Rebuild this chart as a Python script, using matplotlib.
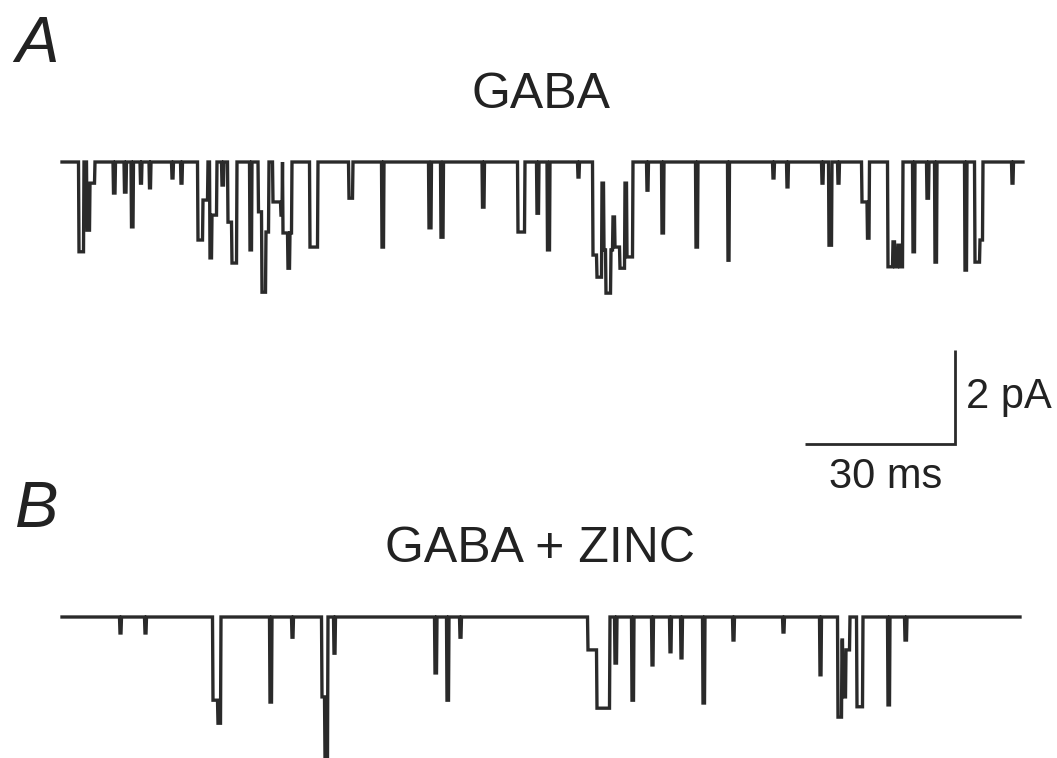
import numpy as np
import matplotlib
matplotlib.use("Agg")
import matplotlib.pyplot as plt

plt.rcParams['font.family'] = ['Liberation Sans', 'DejaVu Sans']

# ---- data (time in ms, amplitude of inward openings in pA) ----
# Trace A: GABA
a_start = [3.4, 5.0, 5.6, 10.3, 12.5, 13.9, 15.7, 17.5, 22.0, 23.8,
           27.2, 28.2, 29.6, 30.0, 32.0, 33.2, 34.0, 37.6, 39.3, 40.0,
           40.8, 42.2, 43.8, 44.2, 45.2, 45.6, 49.6, 57.4, 64.0, 73.4,
           75.8, 84.1, 91.2, 95.0, 97.1, 103.2, 106.2, 107.0, 108.0, 108.4,
           108.8, 109.8, 110.2, 110.6, 111.6, 112.6, 113.0, 117.0, 120.0, 126.8,
           133.2, 142.2, 145.0, 152.0, 153.4, 155.2, 160.0, 161.1, 165.2, 166.2,
           166.6, 167.2, 167.6, 170.2, 173.0, 174.6, 180.6, 182.6, 183.6, 190.0]
a_end = [4.4, 5.6, 6.6, 10.7, 12.9, 14.3, 16.0, 17.8, 22.3, 24.1,
         28.2, 29.2, 30.0, 31.0, 32.4, 34.0, 35.0, 38.0, 40.0, 40.8,
         41.4, 43.8, 44.1, 45.2, 45.6, 46.0, 51.2, 58.2, 64.4, 73.9,
         76.3, 84.5, 92.6, 95.4, 97.6, 103.5, 107.0, 108.0, 108.4, 108.8,
         109.8, 110.2, 110.6, 111.6, 112.6, 113.0, 114.2, 117.3, 120.4, 127.2,
         133.5, 142.5, 145.3, 152.3, 154.0, 155.5, 161.1, 161.5, 166.2, 166.6,
         167.2, 167.6, 168.2, 170.6, 173.4, 175.0, 181.0, 183.6, 184.2, 190.3]
a_amp = [1.91, 1.45, 0.45, 0.66, 0.64, 1.38, 0.45, 0.55, 0.34, 0.45,
         1.66, 0.81, 2.04, 1.13, 0.49, 1.28, 2.15, 1.87, 1.06, 2.77,
         1.49, 0.85, 1.13, 1.51, 2.26, 1.51, 1.81, 0.77, 1.81, 1.40,
         1.60, 0.96, 1.49, 1.09, 1.87, 0.32, 1.98, 2.45, 0.45, 1.87,
         2.79, 1.87, 1.17, 1.81, 2.26, 0.45, 2.02, 0.60, 1.51, 1.81,
         2.09, 0.34, 0.53, 0.45, 1.77, 0.45, 0.85, 1.62, 2.23, 1.70,
         2.23, 1.77, 2.23, 1.91, 0.77, 2.13, 2.30, 2.13, 1.66, 0.45]
a_duration = 192.2

# Trace B: GABA + ZINC
b_start = [11.6, 16.6, 30.2, 31.2, 41.6, 46.0, 52.0, 52.6, 54.4, 74.6,
           77.0, 79.6, 105.2, 107.0, 110.6, 114.0, 118.0, 121.6, 123.8, 128.2,
           134.2, 144.2, 151.6, 155.2, 156.0, 156.2, 156.8, 159.0, 165.2, 168.6]
b_end = [11.9, 16.9, 31.2, 31.8, 42.0, 46.3, 52.6, 53.2, 54.7, 75.0,
         77.4, 79.9, 107.0, 109.6, 111.0, 114.4, 118.3, 121.9, 124.1, 128.6,
         134.5, 144.5, 151.9, 156.0, 156.2, 156.8, 157.6, 160.2, 165.6, 169.0]
b_amp = [0.34, 0.34, 1.77, 2.26, 1.81, 0.43, 1.70, 2.98, 0.77, 1.19,
         1.77, 0.43, 0.70, 1.94, 0.98, 1.77, 1.02, 0.74, 0.87, 1.83,
         0.49, 0.32, 1.23, 2.13, 0.49, 1.70, 0.70, 1.91, 1.87, 0.49]
b_duration = 191.6

titles = ["GABA", "GABA + ZINC"]
panel_labels = ["A", "B"]
scale_ms = 30
scale_pA = 2


def build_trace(starts, ends, amps, duration, dt=0.1):
    t = np.arange(0.0, duration + dt / 2, dt)
    depth = np.zeros_like(t)
    for s, e, a in zip(starts, ends, amps):
        m = (t >= s) & (t < e)
        depth[m] = np.maximum(depth[m], a)
    return t, -depth


W, H = 1057, 758
fig = plt.figure(figsize=(W / 100, H / 100), dpi=100)
ax = fig.add_axes([0, 0, 1, 1])
px_per_ms = 5.0
px_per_pA = 47.0
x0_px = 62
ax.set_xlim(-x0_px / px_per_ms, (W - x0_px) / px_per_ms)
ax.set_ylim(-H / px_per_pA, 0)
ax.axis('off')

col = '#2a2a2a'
baseA = -162 / px_per_pA
baseB = -617 / px_per_pA

tA, yA = build_trace(a_start, a_end, a_amp, a_duration)
tB, yB = build_trace(b_start, b_end, b_amp, b_duration)
ax.plot(tA, yA + baseA, color=col, lw=2.4, solid_joinstyle='miter')
ax.plot(tB, yB + baseB, color=col, lw=2.4, solid_joinstyle='miter')

# scale bar
bar_x = (955 - x0_px) / px_per_ms
bar_y = -444 / px_per_pA
ax.plot([bar_x - scale_ms, bar_x, bar_x], [bar_y, bar_y, bar_y + scale_pA],
        color=col, lw=2.0, solid_capstyle='butt', solid_joinstyle='miter')

txt = '#222222'
fig.text(15 / W, 1 - 62 / H, panel_labels[0], fontsize=47, style='italic',
         color=txt, ha='left', va='baseline')
fig.text(15 / W, 1 - 527 / H, panel_labels[1], fontsize=47, style='italic',
         color=txt, ha='left', va='baseline')
fig.text(541 / W, 1 - 108 / H, titles[0], fontsize=36, color=txt,
         ha='center', va='baseline')
fig.text(540 / W, 1 - 562 / H, titles[1], fontsize=36, color=txt,
         ha='center', va='baseline')
fig.text(966 / W, 1 - 408 / H, f"{scale_pA} pA", fontsize=30, color=txt,
         ha='left', va='baseline')
fig.text(886 / W, 1 - 488 / H, f"{scale_ms} ms", fontsize=30, color=txt,
         ha='center', va='baseline')

fig.savefig('out.png', dpi=100, facecolor='white')
